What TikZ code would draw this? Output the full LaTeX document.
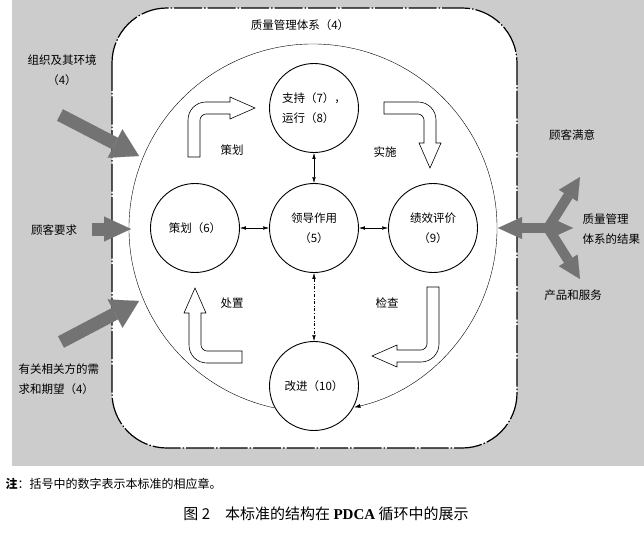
\documentclass[tikz,border=0pt]{standalone}
\usepackage{fontspec}
\setmainfont{Liberation Serif}
\newfontfamily\cjk{Noto Sans CJK SC}
\usepackage{tikz}
\usetikzlibrary{positioning,arrows.meta}
\definecolor{bggray}{gray}{0.80}
\definecolor{fatgray}{gray}{0.45}
\tikzset{
  stage/.style={circle, draw, line width=0.9pt, fill=white, minimum size=89pt, inner sep=0pt, align=center},
  link/.style={thin, {Latex[length=6pt,width=3.5pt]}-{Latex[length=6pt,width=3.5pt]}},
  hollow/.style={draw, fill=white, line width=0.6pt},
  fat/.style={line width=13pt, draw=fatgray, -{Triangle[length=27pt,width=32pt,line width=0.1pt]}},
  pics/bentarrow/.style 2 args={code={
    \draw[hollow] (-6,#1) -- (-6,12) .. controls (-6,2) and (2,-6) .. (12,-6)
      -- ({#2-25},-6) -- ({#2-25},-11) -- (#2,0) -- ({#2-25},11) -- ({#2-25},6)
      -- (12,6) .. controls (9,6) and (6,9) .. (6,12) -- (6,#1) -- cycle;
  }}
}
\begin{document}
\begin{tikzpicture}[x=1pt, y=-1pt, font=\cjk\fontsize{11.5}{20}\selectfont]
      \useasboundingbox (0,0) rectangle (644,532);
      \fill [bggray] (12,0) rectangle (644,466);
      \draw [fill=white, line width=1.2pt, rounded corners=55pt, dash pattern=on 28pt off 2pt on 1.5pt off 2pt] (112,8) rectangle (517,448);
      \node [] at (300,25) (qms) {质量管理体系（4）};

      % PDCA ring
      \coordinate (ctr) at (313,228);
      \draw [thin, -{Latex[length=6pt,width=4pt]}] ([shift={(258:184pt)}]ctr) arc [start angle=258, end angle=-77, radius=184pt];

      \node [stage, align=left] at (314,108) (supp) {支持（7），\\运行（8）};
      \node [stage] at (314,228) (lead) {领导作用\\（5）};
      \node [stage] at (195,228) (plan) {策划（6）};
      \node [stage] at (433,228) (eval) {绩效评价\\（9）};
      \node [stage] at (314,386) (impr) {改进（10）};

      \draw [link] (lead) -- (plan);
      \draw [link] (lead) -- (eval);
      \draw [link] (lead) -- (supp);
      \draw [link, dash dot] (lead) -- (impr);

      \pic at (194,108) {bentarrow={49}{61}};
      \pic [rotate=-90] at (430,108) {bentarrow={46}{60}};
      \pic [rotate=180] at (433,356) {bentarrow={69}{61}};
      \pic [rotate=90] at (195,357) {bentarrow={47}{69}};

      \node [] at (232,150) (tplan) {策划};
      \node [] at (385,152) (tdo) {实施};
      \node [] at (387,303) (tcheck) {检查};
      \node [] at (232,303) (tact) {处置};

      % inputs
      \node [align=center] at (62,70) (env) {组织及其环境\\（4）};
      \node [] at (54,230) (req) {顾客要求};
      \node [align=left, anchor=west] at (15,379) (party) {有关相关方的需\\求和期望（4）};
      \coordinate (envtail) at (60,115);
      \coordinate (envtip) at (139,156);
      \coordinate (reqtail) at (92,229);
      \coordinate (reqtip) at (131,229);
      \coordinate (partytail) at (61,342);
      \coordinate (partytip) at (139,301);
      \draw [fat] (envtail) -- (envtip);
      \draw [fat, -{Triangle[length=27pt,width=25pt,line width=0.1pt]}] (reqtail) -- (reqtip);
      \draw [fat] (partytail) -- (partytip);

      % outputs
      \node [] at (572,135) (sat) {顾客满意};
      \node [align=left, anchor=west] at (579,229) (result) {质量管理\\体系的结果};
      \node [] at (573,295) (prod) {产品和服务};
      \coordinate (hub) at (548,228);
      \coordinate (outl) at (498,228);
      \coordinate (outr) at (573,228);
      \coordinate (outup) at (580,177);
      \coordinate (outdn) at (580,279);
      \draw [fat, line width=10pt, {Triangle[length=24pt,width=22pt,line width=0.1pt]}-{Triangle[length=24pt,width=22pt,line width=0.1pt]}] (outl) -- (outr);
      \draw [fat, line width=10pt, -{Triangle[length=22pt,width=22pt,line width=0.1pt]}] (hub) -- (outup);
      \draw [fat, line width=10pt, -{Triangle[length=22pt,width=22pt,line width=0.1pt]}] (hub) -- (outdn);

      \node [anchor=west, font=\cjk\fontsize{12}{14}\selectfont] at (2,484) (note) {\textbf{注}：括号中的数字表示本标准的相应章。};
      \node [font=\cjk\fontsize{15}{18}\selectfont] at (326,514) (caption) {图 2\quad 本标准的结构在 {\rmfamily\bfseries PDCA} 循环中的展示};
\end{tikzpicture}
\end{document}
